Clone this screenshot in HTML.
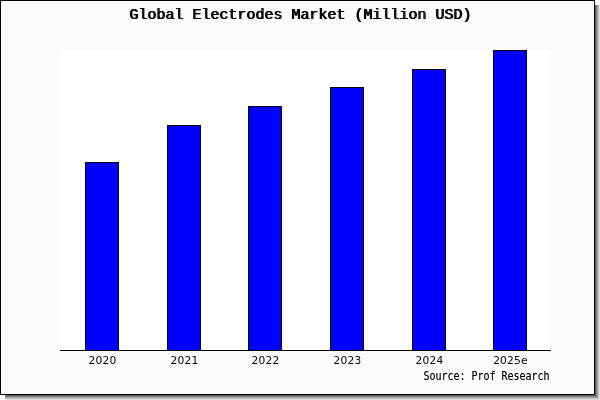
<!DOCTYPE html>
<html>
<head>
<meta charset="utf-8">
<title>Global Electrodes Market (Million USD)</title>
<style>
html,body{margin:0;padding:0;background:#fff;}
body{width:600px;height:400px;position:relative;overflow:hidden;}
.abs{position:absolute;}
.sh{position:absolute;left:5px;top:5px;}
#frame{left:0;top:0;width:593px;height:393px;border:1px solid #000;background:#fafafa;box-shadow:inset 0 0 0 1px #fff;}
#plot{left:60px;top:50px;width:491px;height:300px;background:#fff;}
#axis{left:60px;top:350px;width:491px;height:1px;background:#000;}
.bar{position:absolute;width:32px;background:#0000ff;border:1px solid #000;border-bottom:none;}
#title{left:0;top:7px;width:600px;text-align:center;font-family:"Liberation Mono",monospace;font-weight:normal;text-shadow:1px 0 0 #000;font-size:15px;line-height:17px;color:#000;white-space:pre;}
.xl{position:absolute;top:354px;width:60px;text-align:center;font-family:"DejaVu Sans","Liberation Sans",sans-serif;font-size:10.67px;line-height:14px;color:#000;letter-spacing:0.21px;margin-left:0.5px;}
#src{left:423.5px;top:367.6px;text-shadow:0 0 0 rgba(0,0,0,0.45);font-family:"DejaVu Sans Mono","Liberation Mono",monospace;font-size:10px;line-height:13px;color:#000;white-space:pre;transform:scaleY(1.23);transform-origin:0 0;letter-spacing:-0.02px;}
</style>
</head>
<body>
<div class="sh" style="width:595px;height:395px;background:#e0e0e0"></div>
<div class="sh" style="width:594px;height:394px;background:#c0c0c0"></div>
<div class="sh" style="width:593px;height:393px;background:#a0a0a0"></div>
<div class="sh" style="width:592px;height:392px;background:#808080"></div>
<div class="sh" style="width:591px;height:391px;background:#606060"></div>
<div id="frame" class="abs"></div>
<div id="plot" class="abs"></div>
<div class="bar" style="left:85px;top:162px;height:188px"></div>
<div class="bar" style="left:167px;top:125px;height:225px"></div>
<div class="bar" style="left:248px;top:106px;height:244px"></div>
<div class="bar" style="left:330px;top:87px;height:263px"></div>
<div class="bar" style="left:412px;top:69px;height:281px"></div>
<div class="bar" style="left:493px;top:50px;height:300px"></div>
<div id="axis" class="abs"></div>
<div id="title" class="abs">Global Electrodes Market (Million USD)</div>
<div class="xl" style="left:72px">2020</div>
<div class="xl" style="left:154px">2021</div>
<div class="xl" style="left:235px">2022</div>
<div class="xl" style="left:317px">2023</div>
<div class="xl" style="left:399px">2024</div>
<div class="xl" style="left:480px">2025e</div>
<div id="src" class="abs">Source: Prof Research</div>
</body>
</html>
